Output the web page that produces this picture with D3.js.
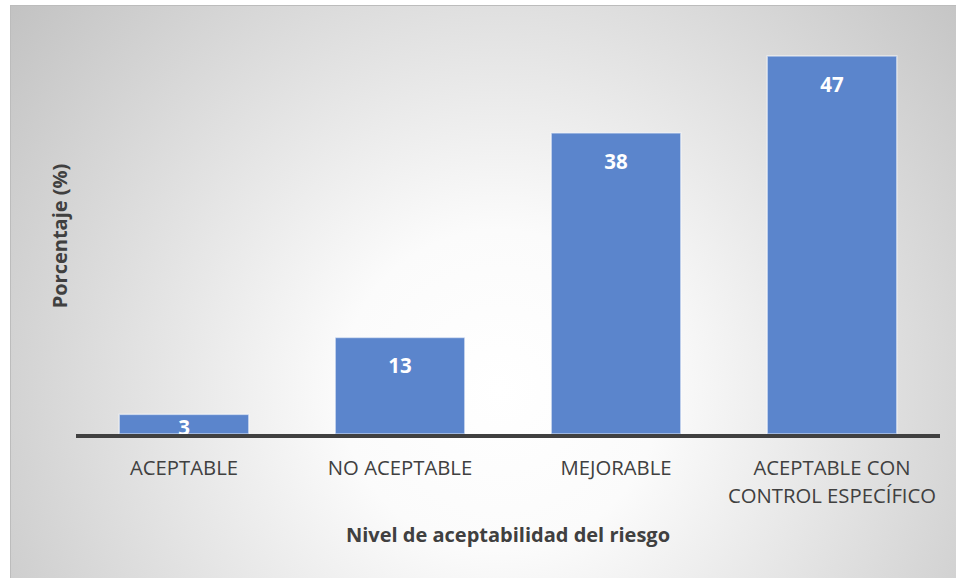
<!DOCTYPE html>
<html>
<head>
<meta charset="utf-8">
<script src="https://cdn.jsdelivr.net/npm/d3@7"></script>
<style>
  html, body { margin: 0; padding: 0; background: #fff; }
  svg { display: block; font-family: "Open Sans", sans-serif; }
</style>
</head>
<body>
<svg id="chart" width="956" height="578"></svg>
<script>
// Nivel de aceptabilidad del riesgo (porcentaje)
const categories = [["ACEPTABLE"], ["NO ACEPTABLE"], ["MEJORABLE"], ["ACEPTABLE CON", "CONTROL ESPECÍFICO"]];
const values = [3.1, 12.5, 37.5, 46.9];
const xTitle = "Nivel de aceptabilidad del riesgo";
const yTitle = "Porcentaje (%)";

const svg = d3.select("#chart");

// chart area background: radial grey-to-white
const defs = svg.append("defs");
const grad = defs.append("radialGradient")
  .attr("id", "bg")
  .attr("gradientUnits", "userSpaceOnUse")
  .attr("cx", 500).attr("cy", 390).attr("r", 640);
grad.append("stop").attr("offset", "0").attr("stop-color", "#ffffff");
grad.append("stop").attr("offset", "0.25").attr("stop-color", "#fbfbfb");
grad.append("stop").attr("offset", "1").attr("stop-color", "#c0c0c0");

svg.append("rect")
  .attr("x", 10.5).attr("y", 5.5)
  .attr("width", 950).attr("height", 580)
  .attr("fill", "url(#bg)")
  .attr("stroke", "#bcbcbc")
  .attr("stroke-width", 1);

const x = d3.scaleBand()
  .domain(d3.range(categories.length))
  .range([76, 940])
  .paddingInner(0.4)
  .paddingOuter(0.2);

const y = d3.scaleLinear()
  .domain([0.7, 46.9])
  .range([434, 56]);

// bars
svg.append("g").selectAll("rect")
  .data(values)
  .join("rect")
  .attr("x", (d, i) => x(i))
  .attr("y", d => y(d))
  .attr("width", x.bandwidth())
  .attr("height", d => y.range()[0] - y(d))
  .attr("fill", "#5b85cc")
  .attr("stroke", "rgba(255,255,255,0.55)")
  .attr("stroke-width", 1.5);

// value labels (inside end)
svg.append("g").selectAll("text")
  .data(values)
  .join("text")
  .attr("x", (d, i) => x(i) + x.bandwidth() / 2)
  .attr("y", d => Math.min(y(d) + 36, y.range()[0] + 1))
  .attr("text-anchor", "middle")
  .attr("fill", "#ffffff")
  .attr("font-size", 20.5)
  .attr("font-weight", 700)
  .text(d => Math.round(d));

// axis line
svg.append("line")
  .attr("x1", x.range()[0]).attr("x2", x.range()[1])
  .attr("y1", 436).attr("y2", 436)
  .attr("stroke", "#404040")
  .attr("stroke-width", 4);

// category labels
const cat = svg.append("g").selectAll("text")
  .data(categories)
  .join("text")
  .attr("text-anchor", "middle")
  .attr("fill", "#404040")
  .attr("font-size", 20.3);
cat.selectAll("tspan")
  .data((d, i) => d.map(t => ({ t, i })))
  .join("tspan")
  .attr("x", d => x(d.i) + x.bandwidth() / 2)
  .attr("y", (d, j) => 475 + j * 28)
  .text(d => d.t);

// axis titles
svg.append("text")
  .attr("x", (x.range()[0] + x.range()[1]) / 2)
  .attr("y", 542)
  .attr("text-anchor", "middle")
  .attr("fill", "#404040")
  .attr("font-size", 20)
  .attr("font-weight", 700)
  .text(xTitle);

svg.append("text")
  .attr("transform", "translate(67,236) rotate(-90)")
  .attr("text-anchor", "middle")
  .attr("fill", "#404040")
  .attr("font-size", 20)
  .attr("font-weight", 700)
  .text(yTitle);
</script>
</body>
</html>
